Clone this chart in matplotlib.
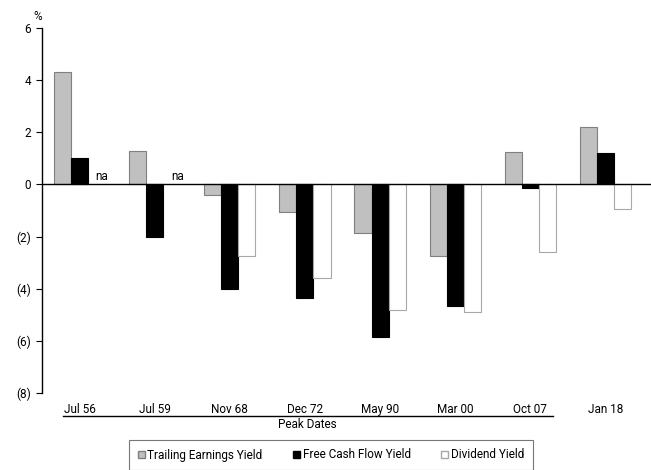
import matplotlib
matplotlib.use("Agg")
import matplotlib.pyplot as plt
from matplotlib.lines import Line2D
from matplotlib.patches import Patch
import numpy as np

plt.rcParams['font.family'] = ['Roboto', 'DejaVu Sans']

categories = ["Jul 56", "Jul 59", "Nov 68", "Dec 72", "May 90", "Mar 00", "Oct 07", "Jan 18"]
trailing_earnings = [4.3, 1.3, -0.4, -1.05, -1.85, -2.75, 1.25, 2.2]
free_cash_flow = [1.0, -2.0, -4.0, -4.35, -5.85, -4.65, -0.15, 1.2]
dividend = [None, None, -2.75, -3.6, -4.8, -4.9, -2.6, -0.95]
y_ticks = [6, 4, 2, 0, -2, -4, -6, -8]
y_tick_labels = ["6", "4", "2", "0", "(2)", "(4)", "(6)", "(8)"]
series_labels = ["Trailing Earnings Yield", "Free Cash Flow Yield", "Dividend Yield"]

W, H = 651, 470
fig = plt.figure(figsize=(W / 100, H / 100), dpi=100)
ax = fig.add_axes([42 / W, 1 - 393 / H, 1 - 42 / W, (393 - 28) / H])

x = np.arange(len(categories))
bw = 0.227

ax.bar(x - bw, trailing_earnings, width=bw, color="#c0c0c0", edgecolor="#808080", linewidth=0.8)
ax.bar(x, free_cash_flow, width=bw, color="black", edgecolor="black", linewidth=0.8)
div_x = [xi + bw for xi, v in zip(x, dividend) if v is not None]
div_v = [v for v in dividend if v is not None]
ax.bar(div_x, div_v, width=bw, color="white", edgecolor="#a8a8a8", linewidth=0.8)
for xi, v in zip(x, dividend):
    if v is None:
        ax.text(xi + 0.3, 0.05, "na", ha="center", va="bottom", fontsize=8.5)

ax.axhline(0, color="black", linewidth=1.0, zorder=5)

ax.set_xlim(-0.5, 7.5 + 8 / 75)
ax.set_ylim(-8, 6)
ax.set_yticks(y_ticks)
ax.set_yticklabels(y_tick_labels, fontsize=8.5)
ax.set_xticks(x)
ax.set_xticklabels(categories, fontsize=8.5)
ax.tick_params(axis="x", length=0, pad=7)
ax.tick_params(axis="y", length=4, width=0.8, direction="out", pad=4)
for s in ["top", "right", "bottom"]:
    ax.spines[s].set_visible(False)
ax.spines["left"].set_linewidth(1.0)

fig.text(38 / W, 1 - 17 / H, "%", ha="center", va="center", fontsize=8.5)

# rule beneath the peak dates and the axis title
fig.add_artist(Line2D([63 / W, 553 / W], [1 - 416 / H, 1 - 416 / H], color="black", linewidth=1.0))
fig.text(307 / W, 1 - 425 / H, "Peak Dates", ha="center", va="center", fontsize=8.5)

handles = [Patch(facecolor="#c0c0c0", edgecolor="#808080"),
           Patch(facecolor="black", edgecolor="black"),
           Patch(facecolor="white", edgecolor="#a8a8a8")]
leg = fig.legend(handles, series_labels, loc="center", bbox_to_anchor=(331 / W, 1 - 455 / H), ncol=3,
                 fontsize=8.5, frameon=True, fancybox=False, handlelength=0.6, handleheight=0.6,
                 handletextpad=0.2, columnspacing=2.6, borderpad=0.55, borderaxespad=0)
leg.get_frame().set_edgecolor("#555555")
leg.get_frame().set_linewidth(0.8)
for t in leg.get_texts():
    t.set_x(0)
leg._legend_box.sep = 0
leg.get_frame().set_boxstyle("square", pad=0)
leg._legend_box.pad = 6

fig.savefig("out.png", dpi=100)
